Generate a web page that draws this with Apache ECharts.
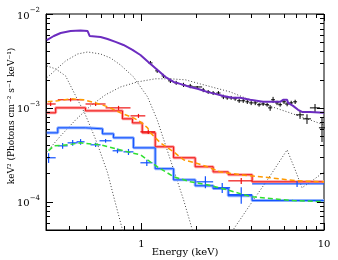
<!DOCTYPE html>
<html><head><meta charset="utf-8">
<script src="https://cdn.jsdelivr.net/npm/echarts/dist/echarts.min.js"></script>
<style>html,body{margin:0;padding:0;background:#fff}#c{width:338px;height:260px}</style>
</head><body><div id="c"></div>
<script>
// ---- axes ----
const X_MIN = 0.3, X_MAX = 10, Y_MIN = 5e-5, Y_MAX = 1e-2;
const X_TITLE = 'Energy (keV)';
const Y_TITLE = 'keV\u00B2 (Photons cm\u207B\u00B2 s\u207B\u00B9 keV\u207B\u00B9)';
const xMajorTicks = [1, 10];
const xMinorTicks = [0.4, 0.5, 0.6, 0.7, 0.8, 0.9, 2, 3, 4, 5, 6, 7, 8, 9];
const yMajorTicks = [1e-4, 1e-3, 1e-2];
const yMinorTicks = [6e-5, 7e-5, 8e-5, 9e-5, 2e-4, 3e-4, 4e-4, 5e-4, 6e-4, 7e-4, 8e-4, 9e-4,
                     2e-3, 3e-3, 4e-3, 5e-3, 6e-3, 7e-3, 8e-3, 9e-3];

// ---- total model (purple) ----
const totalE = [0.303,0.331,0.361,0.409,0.464,0.507,0.520,0.597,0.652,0.721,0.797,0.893,0.987,1.09,1.22,1.35,1.50,1.63,1.85,2.05,2.29,2.54,2.81,3.14,3.47,3.94,4.64,5.07,5.75,5.97,6.12,6.28,6.36,6.77,7.21,7.58,8.38,10];
const totalF = [5.28e-3,5.83e-3,6.28e-3,6.59e-3,6.67e-3,6.59e-3,5.83e-3,5.69e-3,5.42e-3,5.04e-3,4.68e-3,4.14e-3,3.66e-3,3.08e-3,2.54e-3,2.14e-3,1.89e-3,1.80e-3,1.67e-3,1.59e-3,1.48e-3,1.41e-3,1.34e-3,1.28e-3,1.28e-3,1.22e-3,1.16e-3,1.16e-3,1.16e-3,1.22e-3,1.25e-3,1.22e-3,1.13e-3,1.05e-3,9.53e-4,9.06e-4,9.06e-4,8.85e-4];

// ---- black data ----
const blackE  = [1.12,1.22,1.32,1.44,1.55,1.70,1.85,2.02,2.18,2.32,2.47,2.64,2.81,2.95,3.10,3.26,3.43,3.61,3.80,3.99,4.20,4.41,4.64,4.88,5.07,5.26,5.53,5.75,6.04,6.28,6.61,6.95,7.39,8.07,8.93,9.75];
const blackDE = [0.03,0.03,0.03,0.04,0.04,0.04,0.05,0.13,0.05,0.06,0.06,0.07,0.07,0.07,0.08,0.08,0.09,0.09,0.09,0.10,0.10,0.11,0.12,0.12,0.13,0.13,0.14,0.14,0.15,0.16,0.16,0.17,0.37,0.41,0.56,0.37];
const blackF  = [3.01e-3,2.48e-3,2.19e-3,1.94e-3,1.85e-3,1.76e-3,1.71e-3,1.67e-3,1.55e-3,1.48e-3,1.44e-3,1.44e-3,1.31e-3,1.28e-3,1.28e-3,1.25e-3,1.19e-3,1.19e-3,1.16e-3,1.13e-3,1.13e-3,1.08e-3,1.10e-3,1.08e-3,1.00e-3,1.22e-3,1.13e-3,1.08e-3,1.16e-3,1.10e-3,1.13e-3,1.16e-3,8.43e-4,7.64e-4,1.00e-3,6.13e-4];
const blackDF = [1.5e-4,1.2e-4,1.1e-4,1.0e-4,0.9e-4,0.9e-4,0.9e-4,0.4e-4,0.8e-4,0.7e-4,0.7e-4,0.7e-4,0.7e-4,0.6e-4,0.6e-4,0.6e-4,0.6e-4,0.6e-4,0.6e-4,0.6e-4,0.6e-4,0.5e-4,0.5e-4,0.5e-4,0.7e-4,0.9e-4,0.6e-4,0.5e-4,0.6e-4,0.6e-4,0.6e-4,0.6e-4,0.8e-4,0.9e-4,1.0e-4,1.8e-4];

// ---- model components (dotted) ----
const compAE = [0.303,0.339,0.384,0.447,0.488,0.554,0.589,0.652,0.712,0.787,0.807];
const compAF = [2.80e-3,2.60e-3,2.19e-3,1.22e-3,8.85e-4,4.91e-4,3.57e-4,2.04e-4,1.05e-4,5.03e-5,3.94e-5];
const compBE = [0.303,0.339,0.384,0.447,0.507,0.597,0.677,0.768,0.904,1.08,1.22,1.44,1.70,1.90,1.97];
const compBF = [2.09e-3,2.54e-3,3.16e-3,3.75e-3,3.94e-3,3.75e-3,3.40e-3,2.86e-3,2.14e-3,1.31e-3,7.45e-4,2.80e-4,1.05e-4,5.03e-5,3.94e-5];
const compCE = [0.303,0.361,0.436,0.526,0.636,0.768,0.951,1.19,1.44,1.74,2.10,3.06,3.80,4.47,6.52,10];
const compCF = [3.40e-4,5.04e-4,7.45e-4,1.05e-3,1.38e-3,1.67e-3,1.89e-3,2.04e-3,2.04e-3,1.99e-3,1.80e-3,1.48e-3,1.25e-3,1.13e-3,8.85e-4,6.59e-4];
const compDE = [2.99,3.18,3.94,5.07,6.28,6.95,7.58,8.60,10];
const compDF = [3.94e-5,5.03e-5,9.29e-5,1.89e-4,3.57e-4,2.19e-4,1.41e-4,1.67e-4,2.08e-4];

// ---- red: binned model (with band), data, dashed model ----
const redBinEdges = [0.303,0.339,0.494,0.787,0.893,1.01,1.19,1.50,1.97,2.47,2.99,4.04,10];
const redBinF     = [8.85e-4,1.00e-3,9.29e-4,7.64e-4,6.92e-4,5.42e-4,3.85e-4,2.94e-4,2.36e-4,2.08e-4,1.94e-4,1.63e-4];
const redE   = [0.318,0.409,0.561,0.749,0.963,1.09,3.52];
const redElo = [0.303,0.348,0.494,0.636,0.871,0.987,2.99];
const redEhi = [0.339,0.482,0.636,0.871,1.05,1.19,4.04];
const redF   = [1.10e-3,1.22e-3,1.10e-3,1.00e-3,8.22e-4,5.56e-4,1.67e-4];
const redDF  = [5e-5,5e-5,5e-5,5e-5,4e-5,3e-5,1.2e-5];
const orangeE = [0.306,0.348,0.409,0.482,0.561,0.652,0.768,0.904,0.987,1.08,1.12,1.27,1.50,1.70,1.97,2.29,2.70,3.47,5.07,7.12,10];
const orangeF = [1.16e-3,1.19e-3,1.25e-3,1.22e-3,1.13e-3,1.03e-3,8.85e-4,7.83e-4,7.10e-4,6.13e-4,5.42e-4,4.24e-4,3.40e-4,2.80e-4,2.60e-4,2.36e-4,2.08e-4,1.94e-4,1.80e-4,1.67e-4,1.63e-4];

// ---- blue: binned model (with band), data, dashed green model ----
const blueBinEdges = [0.303,0.348,0.494,0.612,0.703,0.904,1.19,1.50,1.97,2.47,2.99,4.04,10];
const blueBinF     = [5.42e-4,6.13e-4,5.98e-4,5.29e-4,4.80e-4,3.75e-4,2.25e-4,1.71e-4,1.48e-4,1.38e-4,1.16e-4,1.03e-4];
const blueE   = [0.310,0.370,0.420,0.464,0.561,0.636,0.739,0.849,1.07,2.24,2.77,3.52,7.12];
const blueElo = [0.303,0.348,0.394,0.441,0.526,0.589,0.695,0.797,0.987,2.00,2.51,2.99,4.04];
const blueEhi = [0.339,0.394,0.447,0.488,0.597,0.686,0.787,0.904,1.15,2.47,3.06,4.04,10];
const blueF   = [2.94e-4,3.94e-4,4.24e-4,4.35e-4,4.04e-4,4.46e-4,3.49e-4,3.40e-4,2.60e-4,1.63e-4,1.41e-4,1.19e-4,1.55e-4];
const blueDF  = [3.5e-5,2.8e-5,3e-5,3e-5,2e-5,2e-5,2e-5,2.5e-5,2e-5,2.4e-5,1.7e-5,2.4e-5,1.1e-5];
const greenE = [0.310,0.331,0.394,0.464,0.597,0.838,0.987,1.22,1.50,1.85,2.29,2.95,3.47,4.04,6.77,10];
const greenF = [3.49e-4,3.94e-4,4.04e-4,4.24e-4,4.04e-4,3.40e-4,3.16e-4,2.36e-4,1.85e-4,1.63e-4,1.52e-4,1.34e-4,1.22e-4,1.13e-4,1.03e-4,1.00e-4];

// ---- helpers ----
const zip = (a, b) => a.map((v, i) => [v, b[i]]);
function steps(edges, vals) {
  const out = [];
  vals.forEach((v, i) => { out.push([edges[i], v]); out.push([edges[i + 1], v]); });
  return out;
}
function lineS(data, color, width, type, z) {
  return { type: 'line', data, showSymbol: false, symbol: 'none', z, silent: true, animation: false,
    lineStyle: { color, width, type: type || 'solid' }, clip: true };
}
function crossS(rows, color, lw, z) {
  return { type: 'custom', z, silent: true, animation: false, data: rows, encode: { x: 0, y: 3 },
    renderItem: (p, api) => {
      const e = api.value(0), lo = api.value(1), hi = api.value(2), f = api.value(3), df = api.value(4);
      const a = api.coord([lo, f]), b = api.coord([hi, f]);
      const c = api.coord([e, f - df]), d = api.coord([e, f + df]);
      const st = { stroke: color, lineWidth: lw };
      return { type: 'group', children: [
        { type: 'line', shape: { x1: a[0], y1: a[1], x2: b[0], y2: b[1] }, style: st },
        { type: 'line', shape: { x1: c[0], y1: c[1], x2: d[0], y2: d[1] }, style: st }
      ] };
    } };
}
function tickS(kind) {
  const rows = [];
  if (kind === 'x') {
    xMajorTicks.forEach(v => rows.push([v, Y_MIN, 1]));
    xMinorTicks.forEach(v => rows.push([v, Y_MIN, 0]));
  } else {
    yMajorTicks.forEach(v => rows.push([X_MIN, v, 1]));
    yMinorTicks.forEach(v => rows.push([X_MIN, v, 0]));
  }
  return { type: 'custom', z: 20, silent: true, animation: false, data: rows, encode: { x: 0, y: 1 },
    renderItem: (p, api) => {
      const v = kind === 'x' ? api.value(0) : api.value(1);
      const len = api.value(2) ? 7 : 4;
      const st = { stroke: '#000', lineWidth: 1 };
      if (kind === 'x') {
        const b = api.coord([v, Y_MIN]), t = api.coord([v, Y_MAX]);
        const x = Math.round(b[0]) + 0.5;
        return { type: 'group', children: [
          { type: 'line', shape: { x1: x, y1: b[1], x2: x, y2: b[1] - len }, style: st },
          { type: 'line', shape: { x1: x, y1: t[1], x2: x, y2: t[1] + len }, style: st }
        ] };
      } else {
        const l = api.coord([X_MIN, v]), r = api.coord([X_MAX, v]);
        const y = Math.round(l[1]) + 0.5;
        return { type: 'group', children: [
          { type: 'line', shape: { x1: l[0], y1: y, x2: l[0] + len, y2: y }, style: st },
          { type: 'line', shape: { x1: r[0], y1: y, x2: r[0] - len, y2: y }, style: st }
        ] };
      }
    } };
}
const FONT = 'DejaVu Serif';

const chart = echarts.init(document.getElementById('c'), null, { renderer: 'canvas' });
chart.setOption({
  animation: false,
  backgroundColor: '#fff',
  grid: { left: 46, right: 14, top: 14, bottom: 30, show: true, borderColor: '#000', borderWidth: 1,
          containLabel: false, outerBoundsMode: 'none' },
  graphic: [
    { type: 'text', x: 185, y: 252, silent: true,
      style: { text: X_TITLE, font: '10px "DejaVu Serif"', fill: '#000', align: 'center', verticalAlign: 'middle' } },
    { type: 'text', x: 12, y: 116, rotation: Math.PI / 2, silent: true,
      style: { text: Y_TITLE, font: '9px "DejaVu Serif"', fill: '#000', align: 'center', verticalAlign: 'middle' } }
  ],
  xAxis: {
    type: 'log', logBase: 10, min: X_MIN, max: X_MAX,
    axisLine: { show: true, lineStyle: { color: '#000' } },
    axisTick: { show: false }, splitLine: { show: false }, minorTick: { show: false },
    axisLabel: { margin: 9, fontFamily: FONT, fontSize: 10, color: '#000', showMinLabel: false,
      formatter: v => { const l = Math.log10(v); return Math.abs(l - Math.round(l)) < 1e-6 ? String(Math.round(v)) : ''; } }
  },
  yAxis: {
    type: 'log', logBase: 10, min: Y_MIN, max: Y_MAX,
    axisLine: { show: true, lineStyle: { color: '#000' } },
    axisTick: { show: false }, splitLine: { show: false }, minorTick: { show: false },
    axisLabel: { margin: 6, fontFamily: FONT, color: '#000', showMinLabel: false,
      formatter: v => { const l = Math.log10(v); if (Math.abs(l - Math.round(l)) > 1e-6) return '';
        return '{b|10}{s|\u2212' + Math.abs(Math.round(l)) + '}'; },
      rich: { b: { fontFamily: FONT, fontSize: 10, color: '#000', lineHeight: 14, verticalAlign: 'bottom' },
              s: { fontFamily: FONT, fontSize: 7, color: '#000', lineHeight: 14, verticalAlign: 'top', padding: [0, 0, 4, 0] } } }
  },
  series: [
    lineS(zip(compAE, compAF), '#444', 1, [1, 2], 2),
    lineS(zip(compBE, compBF), '#444', 1, [1, 2], 2),
    lineS(zip(compCE, compCF), '#444', 1, [1, 2], 2),
    lineS(zip(compDE, compDF), '#444', 1, [1, 2], 2),
    lineS(steps(redBinEdges, redBinF), '#ffa0a0', 3, 'solid', 3),
    lineS(steps(blueBinEdges, blueBinF), '#90b2ff', 3, 'solid', 3),
    lineS(steps(redBinEdges, redBinF), '#ee1111', 1, 'solid', 4),
    lineS(steps(blueBinEdges, blueBinF), '#1050ff', 1, 'solid', 4),
    crossS(redE.map((e, i) => [e, redElo[i], redEhi[i], redF[i], redDF[i]]), '#ee1111', 1.2, 5),
    crossS(blueE.map((e, i) => [e, blueElo[i], blueEhi[i], blueF[i], blueDF[i]]), '#1050ff', 1.2, 5),
    lineS(zip(orangeE, orangeF), '#ff9a00', 1.5, [5, 3], 6),
    lineS(zip(greenE, greenF), '#30e030', 1.5, [5, 3], 6),
    crossS(blackE.map((e, i) => [e, e - blackDE[i], e + blackDE[i], blackF[i], blackDF[i]]), '#000', 1, 7),
    lineS(zip(totalE, totalF), '#6c2cc0', 2, 'solid', 8),
    tickS('x'), tickS('y')
  ]
});
</script></body></html>
